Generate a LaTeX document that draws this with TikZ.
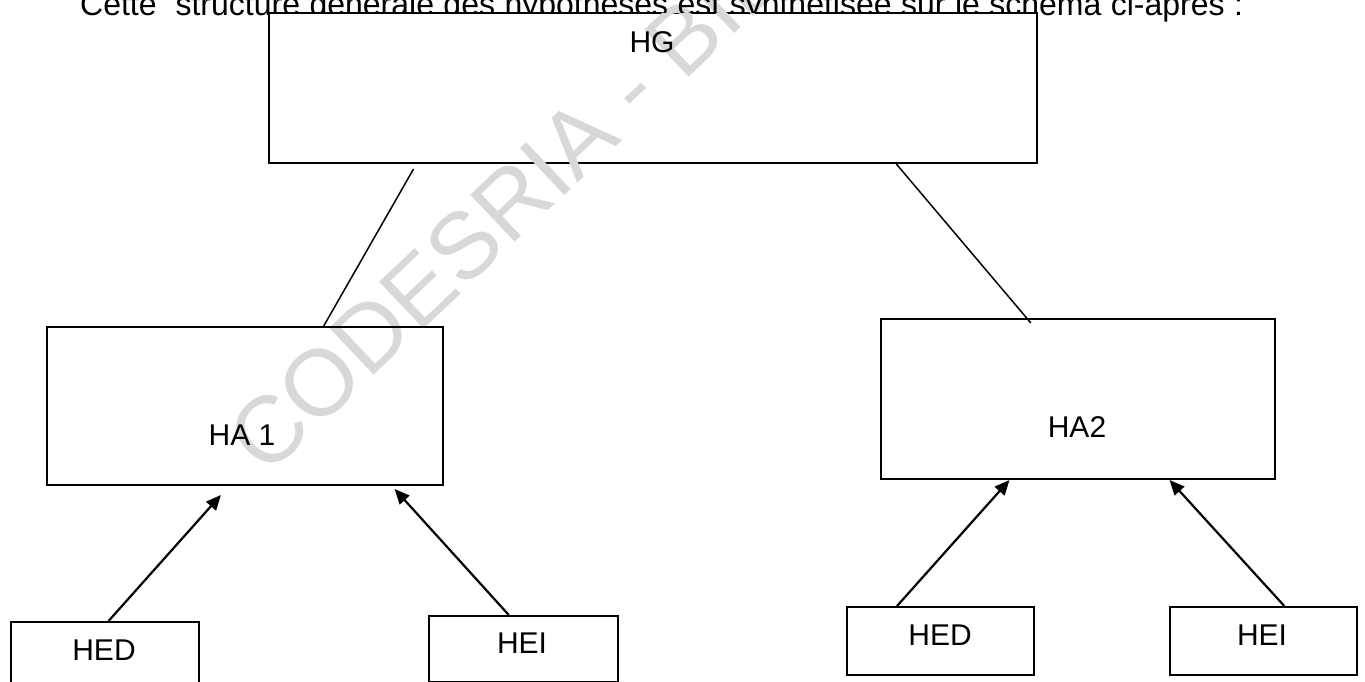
\documentclass[tikz,border=0pt]{standalone}
\usepackage{fontspec}
\setmainfont{Liberation Sans}
\usetikzlibrary{arrows.meta,calc}
\definecolor{wmgray}{RGB}{216,216,216}
\begin{document}
\begin{tikzpicture}[x=1pt,y=-1pt,
  box/.style={draw, line width=2pt, inner sep=0pt, anchor=north west},
  lbl/.style={font=\fontsize{30}{36}\selectfont, inner sep=0pt},
  link/.style={line width=1.5pt},
  up/.style={line width=2.2pt, -{Triangle[length=15pt,width=13pt]}}]
\useasboundingbox (0,0) rectangle (1365,682);
\clip (0,0) rectangle (1365,682);

% general hypothesis
\node[box, fill=white, minimum width=768pt, minimum height=149.5pt] (hg) at (268,12.5) {};

% watermark
\node[rotate=43.5, anchor=base west, inner sep=0pt, text=wmgray,
      font=\fontsize{94}{94}\selectfont] (wm) at (266.5,478) {CODESRIA - BIBLIOTHEQUE};

% introductory sentence, hidden where the top box covers it
\begin{scope}
  \clip (0,0) rectangle (hg.north west |- 0,682)
        (hg.north east |- 0,0) rectangle (1365,682)
        (0,0) rectangle (1365,0 |- hg.north);
  \node[inner sep=0pt, font=\fontsize{32}{38}\selectfont, anchor=base west] (intro) at (80,16)
    {\makebox[1163pt][s]{Cette\ \ structure générale des hypothèses est synthétisée sur le schéma ci-après :}};
\end{scope}

\node[lbl] (thg) at (652,42) {HG};

% alternative hypotheses
\node[box, minimum width=396.3pt, minimum height=158pt] (ha1) at (45.7,326) {};
\node[box, minimum width=394pt, minimum height=160pt] (ha2) at (880,318) {};
\node[lbl] (tha1) at (242,435.5) {HA 1};
\node[lbl] (tha2) at (1077,427.5) {HA2};

% elementary hypotheses
\node[box, minimum width=188.5pt, minimum height=68pt] (hed1) at (9.5,621) {};
\node[box, minimum width=189pt, minimum height=66pt] (hei1) at (428,615) {};
\node[box, minimum width=187pt, minimum height=68pt] (hed2) at (846,606) {};
\node[box, minimum width=187pt, minimum height=68pt] (hei2) at (1169,606) {};
\node[lbl] (thed1) at (104,650.5) {HED};
\node[lbl] (thei1) at (522,643.3) {HEI};
\node[lbl] (thed2) at (940,635) {HED};
\node[lbl] (thei2) at (1262,635) {HEI};

% links from the general hypothesis
\draw[link] ($(hg.south west)!0.189!(hg.south east)+(0,5)$) -- ($(ha1.north west)!0.698!(ha1.north east)$);
\draw[link] ($(hg.south west)!0.816!(hg.south east)$) -- ($(ha2.north west)!0.381!(ha2.north east)+(0,5)$);

% arrows from the elementary hypotheses
\draw[up] ($(hed1.north west)!0.52!(hed1.north east)$) -- ($(ha1.south west)!0.44!(ha1.south east)+(0,9)$);
\draw[up] ($(hei1.north west)!0.423!(hei1.north east)$) -- ($(ha1.south west)!0.876!(ha1.south east)+(0,3)$);
\draw[up] ($(hed2.north west)!0.27!(hed2.north east)$) -- ($(ha2.south west)!0.327!(ha2.south east)$);
\draw[up] ($(hei2.north west)!0.61!(hei2.north east)$) -- ($(ha2.south west)!0.731!(ha2.south east)$);
\end{tikzpicture}
\end{document}
